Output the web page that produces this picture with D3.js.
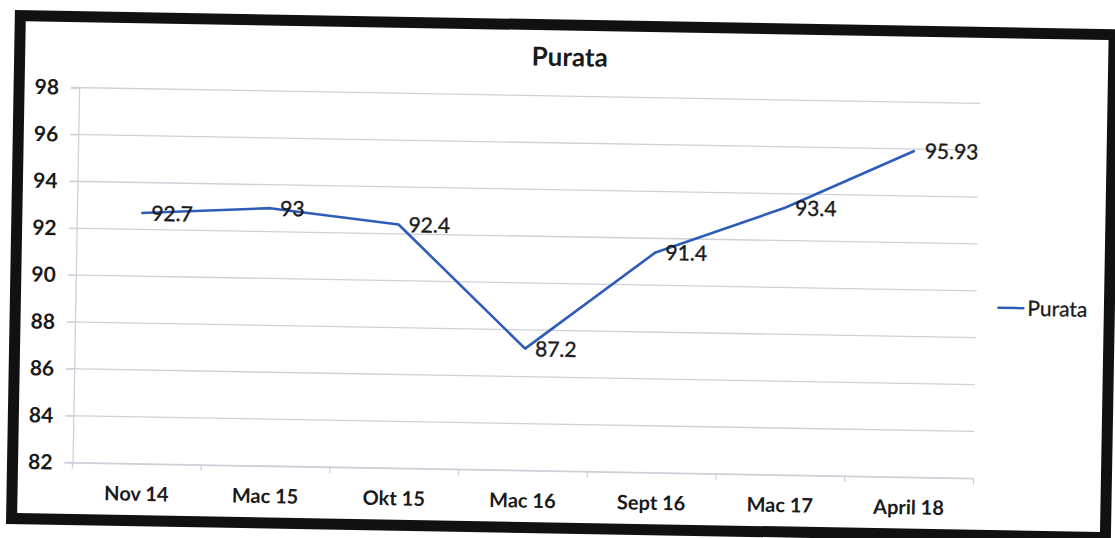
<!DOCTYPE html>
<html>
<head>
<meta charset="utf-8">
<script src="https://cdn.jsdelivr.net/npm/d3@7/dist/d3.min.js"></script>
<style>
  html, body { margin: 0; padding: 0; background: #ffffff; }
  svg { display: block; }
  text { font-family: Lato, "Open Sans", sans-serif; fill: #1a1a1a; }
</style>
</head>
<body>
<svg id="chart" width="1115" height="538"></svg>
<script>
const title = "Purata";
const seriesName = "Purata";
const categories = ["Nov 14", "Mac 15", "Okt 15", "Mac 16", "Sept 16", "Mac 17", "April 18"];
const values = [92.7, 93, 92.4, 87.2, 91.4, 93.4, 95.93];
const valueLabels = ["92.7", "93", "92.4", "87.2", "91.4", "93.4", "95.93"];
const yTicks = [82, 84, 86, 88, 90, 92, 94, 96, 98];

const W = 1115, H = 538;
const svg = d3.select("#chart");
svg.append("rect").attr("width", W).attr("height", H).attr("fill", "#ffffff");

const g = svg.append("g").attr("transform", "rotate(1, 557, 269)");

// frame
g.append("rect")
  .attr("x", 16).attr("y", 25).attr("width", 1094).attr("height", 503)
  .attr("fill", "#ffffff").attr("stroke", "#111111").attr("stroke-width", 11);

const plot = { left: 76, right: 977, top: 96, bottom: 471 };
const x = d3.scaleBand().domain(categories).range([plot.left, plot.right]);
const y = d3.scaleLinear().domain([82, 98]).range([plot.bottom, plot.top]);

const gridColor = "#cdd1d8";

// gridlines
g.append("g").selectAll("line").data(yTicks).join("line")
  .attr("x1", plot.left - 8).attr("x2", plot.right)
  .attr("y1", d => y(d)).attr("y2", d => y(d))
  .attr("stroke", gridColor).attr("stroke-width", 1.3);

// y axis
const yAxis = g.append("g").attr("transform", `translate(${plot.left},0)`)
  .call(d3.axisLeft(y).tickValues(yTicks).tickSize(8).tickPadding(12).tickFormat(d3.format("d")));
yAxis.select(".domain").attr("stroke", gridColor).attr("stroke-width", 1.3);
yAxis.selectAll(".tick line").attr("stroke", gridColor);
yAxis.selectAll("text").attr("font-size", 21).attr("font-weight", "bold").attr("fill", "#1a1a1a")
  .attr("font-family", "Lato, sans-serif");

// x axis
const xAxis = g.append("g").attr("transform", `translate(0,${plot.bottom})`)
  .call(d3.axisBottom(x).tickSize(0).tickPadding(23));
xAxis.select(".domain").attr("stroke", gridColor).attr("stroke-width", 1.3);
xAxis.selectAll("text").attr("font-size", 20).attr("font-weight", "bold").attr("fill", "#1a1a1a")
  .attr("font-family", "Lato, sans-serif");

// x tick marks at band boundaries
const bounds = categories.map(c => x(c)).concat([x(categories[categories.length - 1]) + x.bandwidth()]);
g.append("g").selectAll("line").data(bounds).join("line")
  .attr("x1", d => d).attr("x2", d => d)
  .attr("y1", plot.bottom).attr("y2", plot.bottom + 6)
  .attr("stroke", gridColor).attr("stroke-width", 1.3);

// line
const pts = categories.map((c, i) => ({ c, v: values[i], label: valueLabels[i] }));
const line = d3.line().x(d => x(d.c) + x.bandwidth() / 2).y(d => y(d.v));
g.append("path").datum(pts)
  .attr("d", line).attr("fill", "none")
  .attr("stroke", "#2d5db9").attr("stroke-width", 2.6).attr("stroke-linejoin", "round");

// data labels
g.append("g").selectAll("text").data(pts).join("text")
  .attr("x", d => x(d.c) + x.bandwidth() / 2 + 10)
  .attr("y", d => y(d.v))
  .attr("dy", "0.36em")
  .attr("font-size", 21)
  .attr("stroke", "#1a1a1a").attr("stroke-width", 0.4)
  .text(d => d.label);

// title
g.append("text").attr("x", 566).attr("y", 66).attr("text-anchor", "middle")
  .attr("font-size", 26).attr("font-weight", "bold").text(title);

// legend
g.append("line").attr("x1", 998).attr("x2", 1025).attr("y1", 300).attr("y2", 300)
  .attr("stroke", "#2d5db9").attr("stroke-width", 2.6);
g.append("text").attr("x", 1028).attr("y", 300).attr("dy", "0.36em")
  .attr("font-size", 21).attr("stroke", "#1a1a1a").attr("stroke-width", 0.3).text(seriesName);
</script>
</body>
</html>
